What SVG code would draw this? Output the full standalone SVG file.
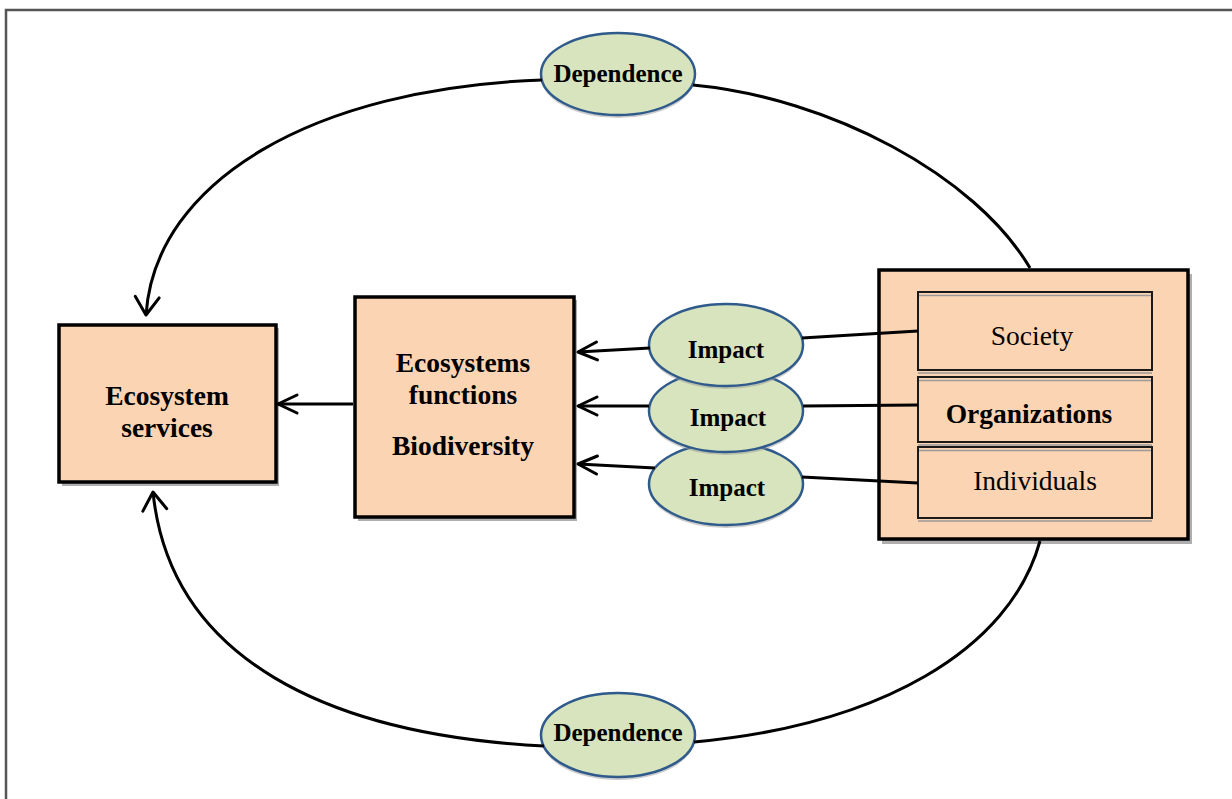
<svg xmlns="http://www.w3.org/2000/svg" width="1232" height="799" viewBox="0 0 1232 799">
<defs>
<style>
.box{fill:#FBD4B4;stroke:#000;stroke-width:3.5}
.inner{fill:#FBD4B4;stroke:#1a1a1a;stroke-width:2}
.shadow{fill:#8c8c8c;opacity:0.7}
.ell{fill:#D7E4BD;stroke:#2F5A8C;stroke-width:2.5}
.eshadow{fill:#9a9a9a;opacity:0.5}
.line{fill:none;stroke:#000;stroke-width:3}
.gray{stroke:#9a9a9a;stroke-width:1.5}
.tb{font-family:"Liberation Serif","Times New Roman",serif;font-weight:bold;text-anchor:middle;fill:#000}
.tr{font-family:"Liberation Serif","Times New Roman",serif;text-anchor:middle;fill:#000}
</style>
<marker id="ah" markerUnits="userSpaceOnUse" markerWidth="40" markerHeight="40" refX="0" refY="0" orient="auto" overflow="visible">
<path d="M-19,-9 L0,0 L-19,9" fill="none" stroke="#000" stroke-width="3" stroke-linecap="round" stroke-linejoin="round"/>
</marker>
<marker id="ahc" markerUnits="userSpaceOnUse" markerWidth="40" markerHeight="40" refX="0" refY="0" orient="auto" overflow="visible">
<path d="M-18,-12 L0,0 L-18,12" fill="none" stroke="#000" stroke-width="3" stroke-linecap="round" stroke-linejoin="round"/>
</marker>
</defs>
<rect width="1232" height="799" fill="#fff"/>
<path d="M6,799 L6,10 L1232,10" fill="none" stroke="#555" stroke-width="2.5"/>

<g id="ecosystem-services">
<rect class="shadow" x="62" y="328" width="217" height="158"/>
<rect class="box" x="59" y="325" width="217" height="157"/>
<text class="tb" x="167" y="405" font-size="27.5">Ecosystem</text>
<text class="tb" x="167" y="437" font-size="27.5">services</text>
</g>

<g id="ecosystems-functions">
<rect class="shadow" x="358" y="300" width="219" height="221"/>
<rect class="box" x="355" y="297" width="219" height="220"/>
<text class="tb" x="463" y="372" font-size="27.5">Ecosystems</text>
<text class="tb" x="463" y="404" font-size="27.5">functions</text>
<text class="tb" x="463" y="455" font-size="27.5">Biodiversity</text>
</g>

<g id="dependence-top">
<ellipse class="eshadow" cx="618" cy="77" rx="77" ry="41"/>
<ellipse class="ell" cx="618" cy="74" rx="77" ry="41"/>
<text class="tb" x="618" y="82" font-size="25">Dependence</text>
</g>

<g id="dependence-bottom">
<ellipse class="eshadow" cx="618" cy="738" rx="77" ry="42"/>
<ellipse class="ell" cx="618" cy="735" rx="77" ry="42"/>
<text class="tb" x="618" y="741" font-size="25">Dependence</text>
</g>

<g id="impact-3">
<ellipse class="eshadow" cx="726" cy="487" rx="77" ry="41"/>
<ellipse class="ell" cx="726" cy="484" rx="77" ry="41"/>
<text class="tb" x="727" y="496" font-size="25">Impact</text>
</g>
<g id="impact-2">
<ellipse class="eshadow" cx="726" cy="414" rx="77" ry="41"/>
<ellipse class="ell" cx="726" cy="411" rx="77" ry="41"/>
<text class="tb" x="728" y="426" font-size="25">Impact</text>
</g>
<g id="impact-1">
<ellipse class="eshadow" cx="726" cy="348" rx="77" ry="41"/>
<ellipse class="ell" cx="726" cy="345" rx="77" ry="41"/>
<text class="tb" x="726" y="358" font-size="25">Impact</text>
</g>

<g id="actors">
<rect class="shadow" x="882" y="274" width="310" height="270"/>
<rect class="box" x="879" y="270" width="309" height="269" stroke-width="4"/>
<g id="society">
<line class="gray" x1="918" y1="373" x2="1152" y2="373"/>
<rect class="inner" x="918" y="292" width="234" height="78"/>
<line class="gray" x1="919" y1="295.5" x2="1151" y2="295.5"/>
<text class="tr" x="1032" y="345" font-size="27.5">Society</text>
</g>
<g id="organizations">
<line class="gray" x1="918" y1="445" x2="1152" y2="445"/>
<rect class="inner" x="918" y="377" width="234" height="65"/>
<line class="gray" x1="919" y1="380.5" x2="1151" y2="380.5"/>
<text class="tb" x="1029" y="423" font-size="27.5">Organizations</text>
</g>
<g id="individuals">
<line class="gray" x1="918" y1="521" x2="1152" y2="521"/>
<rect class="inner" x="918" y="447" width="234" height="71"/>
<line class="gray" x1="919" y1="450.5" x2="1151" y2="450.5"/>
<text class="tr" x="1035" y="490" font-size="27.5">Individuals</text>
</g>
</g>

<g id="connectors">
<path class="line" d="M1030,268 C975,175 830,98 693,85"/>
<path class="line" d="M542,80 C315,88 155,180 146,315" marker-end="url(#ahc)"/>
<path class="line" d="M1040,541 C1010,650 880,725 694,742"/>
<path class="line" d="M544,746 C330,735 170,660 153,492" marker-end="url(#ahc)"/>
<path class="line" d="M353,404 L278,404" marker-end="url(#ah)"/>
<path class="line" d="M650,348 L578,352" marker-end="url(#ah)"/>
<path class="line" d="M649,406 L578,406" marker-end="url(#ah)"/>
<path class="line" d="M655,468 L578,464" marker-end="url(#ah)"/>
<path class="line" d="M802,338 L918,331"/>
<path class="line" d="M803,406 L918,405"/>
<path class="line" d="M802,477 L918,483"/>
</g>
</svg>
